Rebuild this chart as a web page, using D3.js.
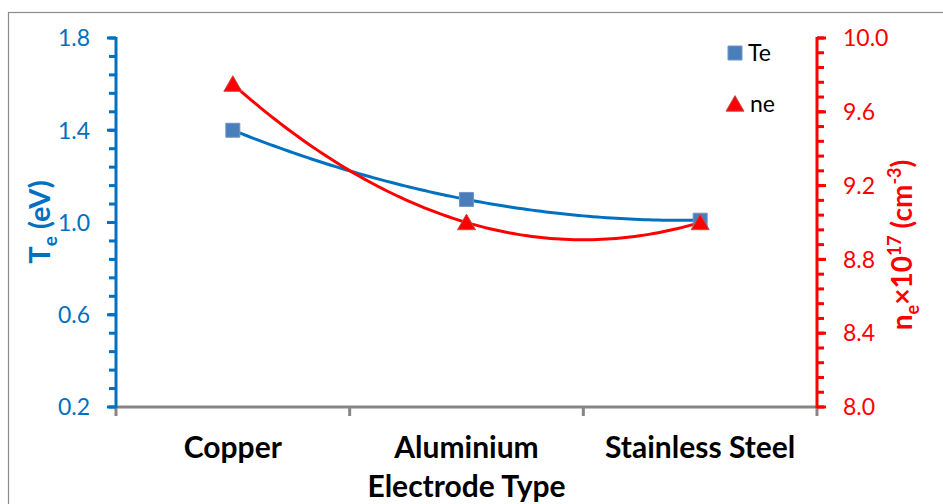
<!DOCTYPE html>
<html lang="en">
  <head>
    <meta charset="utf-8">
    <title>Te and ne by electrode</title>
    <script src="https://cdn.jsdelivr.net/npm/d3@7"></script>
    <style>
      body { margin: 0; background: #fff; }
      svg { display: block; font-family: Lato, "Open Sans", sans-serif; }
    </style>
  </head>
  <body>
    <svg id="chart" width="943" height="504"></svg>
    <script type="text/javascript">
    // values
    var electrodes = ['Copper', 'Aluminium', 'Stainless Steel'];
    var teValues = [1.4, 1.1, 1.01];
    var neValues = [9.75, 9.0, 9.0];
    var teTicks = [0.2, 0.6, 1.0, 1.4, 1.8];
    var neTicks = [8.0, 8.4, 8.8, 9.2, 9.6, 10.0];

    var blue = '#0070c0', red = '#ff0000', grey = '#868686';
    var svg = d3.select('#chart');
    var plotL = 116, plotR = 817, plotT = 38, plotB = 407;

    // frame of the chart area
    svg.append('rect').attr('x', 8.5).attr('y', 12.5).attr('width', 950).attr('height', 520)
      .attr('fill', 'none').attr('stroke', '#8c8c8c').attr('stroke-width', 1.2);

    var x = d3.scaleBand().domain(electrodes).range([plotL, plotR]);
    var yTe = d3.scaleLinear().domain([0.2, 1.8]).range([plotB, plotT]);
    var yNe = d3.scaleLinear().domain([8.0, 10.0]).range([plotB, plotT]);

    // x axis
    var xAxis = svg.append('g').attr('transform', 'translate(0,' + plotB + ')');
    xAxis.append('line').attr('x1', plotL).attr('x2', plotR).attr('stroke', grey).attr('stroke-width', 3);
    var bounds = electrodes.map(function(d) { return x(d); }).concat([plotR]);
    xAxis.selectAll('line.tk').data(bounds).enter().append('line').attr('class', 'tk')
      .attr('x1', function(d) { return d; }).attr('x2', function(d) { return d; })
      .attr('y1', 0).attr('y2', 9).attr('stroke', grey).attr('stroke-width', 3);
    xAxis.selectAll('text').data(electrodes).enter().append('text')
      .attr('x', function(d) { return x(d) + x.bandwidth() / 2; }).attr('y', 51)
      .attr('text-anchor', 'middle').attr('font-weight', 'bold').attr('font-size', 30)
      .attr('fill', '#000').text(function(d) { return d; });
    svg.append('text').attr('x', x('Aluminium') + x.bandwidth() / 2).attr('y', 497)
      .attr('text-anchor', 'middle').attr('font-weight', 'bold').attr('font-size', 30)
      .text('Electrode Type');

    // minor tick positions
    function minors(scale, step) {
      var d = scale.domain(), out = [];
      for (var i = 0; d[0] + i * step <= d[1] + 1e-9; i++) out.push(d[0] + i * step);
      return out;
    }

    // left axis
    var lAx = svg.append('g').attr('transform', 'translate(' + plotL + ',0)');
    lAx.append('line').attr('y1', plotT - 1).attr('y2', plotB + 1).attr('stroke', blue).attr('stroke-width', 3);
    lAx.selectAll('line.mn').data(minors(yTe, 0.08)).enter().append('line').attr('class', 'mn')
      .attr('x1', -7).attr('x2', 0).attr('y1', function(d) { return yTe(d); }).attr('y2', function(d) { return yTe(d); })
      .attr('stroke', blue).attr('stroke-width', 3);
    lAx.selectAll('line.mj').data(teTicks).enter().append('line').attr('class', 'mj')
      .attr('x1', -9).attr('x2', 0).attr('y1', function(d) { return yTe(d); }).attr('y2', function(d) { return yTe(d); })
      .attr('stroke', blue).attr('stroke-width', 3);
    lAx.selectAll('text').data(teTicks).enter().append('text')
      .attr('x', -26).attr('y', function(d) { return yTe(d); }).attr('dy', '0.36em').attr('text-anchor', 'end')
      .attr('font-size', 23).attr('fill', blue).text(d3.format('.1f'));

    // right axis
    var rAx = svg.append('g').attr('transform', 'translate(' + plotR + ',0)');
    rAx.append('line').attr('y1', plotT - 1).attr('y2', plotB + 1).attr('stroke', red).attr('stroke-width', 3);
    rAx.selectAll('line.mn').data(minors(yNe, 0.08)).enter().append('line').attr('class', 'mn')
      .attr('x1', 0).attr('x2', 7).attr('y1', function(d) { return yNe(d); }).attr('y2', function(d) { return yNe(d); })
      .attr('stroke', red).attr('stroke-width', 3);
    rAx.selectAll('line.mj').data(neTicks).enter().append('line').attr('class', 'mj')
      .attr('x1', 0).attr('x2', 9).attr('y1', function(d) { return yNe(d); }).attr('y2', function(d) { return yNe(d); })
      .attr('stroke', red).attr('stroke-width', 3);
    rAx.selectAll('text').data(neTicks).enter().append('text')
      .attr('x', 26).attr('y', function(d) { return yNe(d); }).attr('dy', '0.36em').attr('text-anchor', 'start')
      .attr('font-size', 23).attr('fill', red).text(d3.format('.1f'));

    // axis titles
    var lt = svg.append('text').attr('transform', 'translate(50,222) rotate(-90)')
      .attr('text-anchor', 'middle').attr('font-weight', 'bold').attr('font-size', 29).attr('fill', blue);
    lt.append('tspan').text('T');
    lt.append('tspan').attr('font-size', 19).attr('dy', 7).text('e');
    lt.append('tspan').attr('dy', -7).text(' (eV)');

    var rt = svg.append('text').attr('transform', 'translate(912,245) rotate(-90)')
      .attr('text-anchor', 'middle').attr('font-weight', 'bold').attr('font-size', 28).attr('fill', red);
    rt.append('tspan').text('n');
    rt.append('tspan').attr('font-size', 18).attr('dy', 7).text('e');
    rt.append('tspan').attr('dy', -7).text('\u00d710');
    rt.append('tspan').attr('font-size', 18).attr('dy', -11).text('17');
    rt.append('tspan').attr('dy', 11).text(' (cm');
    rt.append('tspan').attr('font-size', 18).attr('dy', -11).text('-3');
    rt.append('tspan').attr('dy', 11).text(')');

    // 2nd order trendline through the three points
    function quad(vals) {
      var c = vals[0];
      var a = (vals[2] - 2 * vals[1] + vals[0]) / 2;
      var b = vals[1] - vals[0] - a;
      return d3.range(0, 2.0001, 0.02).map(function(t) { return [t, a * t * t + b * t + c]; });
    }
    var cx = function(t) { return x(electrodes[0]) + x.bandwidth() / 2 + t * x.bandwidth(); };

    svg.append('path').datum(quad(teValues))
      .attr('d', d3.line().x(function(d) { return cx(d[0]); }).y(function(d) { return yTe(d[1]); }))
      .attr('fill', 'none').attr('stroke', blue).attr('stroke-width', 3);
    svg.append('path').datum(quad(neValues))
      .attr('d', d3.line().x(function(d) { return cx(d[0]); }).y(function(d) { return yNe(d[1]); }))
      .attr('fill', 'none').attr('stroke', red).attr('stroke-width', 3);

    var sq = d3.symbol().type(d3.symbolSquare).size(196);
    var tri = d3.symbol().type(d3.symbolTriangle).size(140);

    svg.selectAll('path.te').data(teValues).enter().append('path').attr('class', 'te')
      .attr('d', sq).attr('transform', function(d, i) { return 'translate(' + cx(i) + ',' + yTe(d) + ')'; })
      .attr('fill', '#4a7ebb').attr('stroke', '#6f96c8').attr('stroke-width', 1);
    svg.selectAll('path.ne').data(neValues).enter().append('path').attr('class', 'ne')
      .attr('d', tri).attr('transform', function(d, i) { return 'translate(' + cx(i) + ',' + (yNe(d) + 2) + ')'; })
      .attr('fill', '#ff0000').attr('stroke', '#c0504d').attr('stroke-width', 1);

    // legend
    var lg = svg.append('g');
    lg.append('path').attr('d', sq).attr('transform', 'translate(735,53)')
      .attr('fill', '#4a7ebb').attr('stroke', '#6f96c8');
    lg.append('text').attr('x', 748).attr('y', 53).attr('dy', '0.36em').attr('font-size', 23).text('Te');
    lg.append('path').attr('d', tri).attr('transform', 'translate(735,106)')
      .attr('fill', '#ff0000').attr('stroke', '#c0504d');
    lg.append('text').attr('x', 750).attr('y', 104).attr('dy', '0.36em').attr('font-size', 23).text('ne');
    </script>
  </body>
</html>
